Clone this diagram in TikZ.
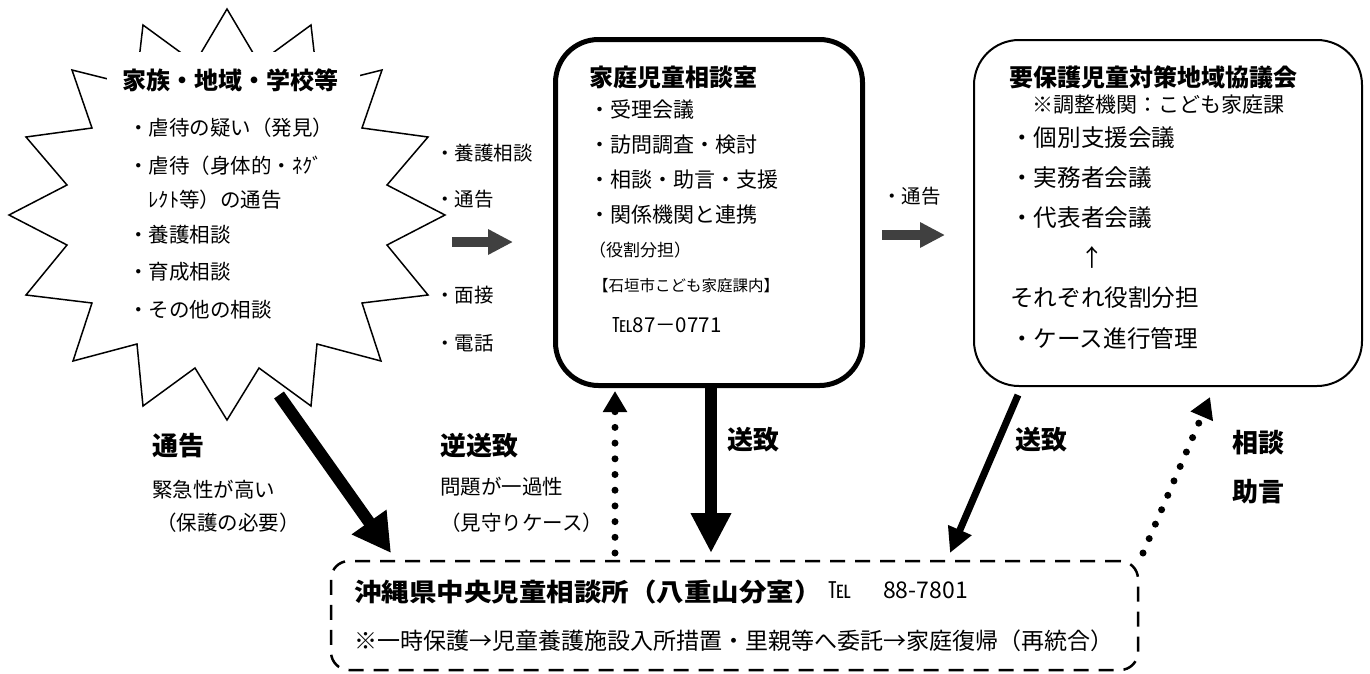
\documentclass[tikz,border=0pt]{standalone}
\usepackage{fontspec}
\setmainfont{Noto Sans CJK JP}
\usepackage{graphicx}
\usetikzlibrary{arrows.meta,calc}
\newcommand\fsz[1]{\fontsize{#1pt}{#1pt}\selectfont}
\definecolor{arrgray}{HTML}{404040}
\begin{document}
\begin{tikzpicture}[x=1pt,y=-1pt,
  tl/.style={inner sep=0pt,anchor=west},
  tc/.style={inner sep=0pt,anchor=center},
  bold24/.style={font=\bfseries\fsz{24}},
  boldlbl/.style={tl,font=\bfseries\fsz{26}},
  body/.style={tl,font=\fsz{#1}},
  grayarrow/.style={line width=10pt,arrgray,-{Triangle[length=25pt,width=24pt]}},
  dotarrow/.style={line width=7pt,dash pattern=on 0pt off 15.7pt,line cap=round,-{Triangle[length=21pt,width=23pt]}},
  roundbox/.style={draw,inner sep=0pt,rounded corners=#1}
]
\useasboundingbox (0,0) rectangle (1370,673);

% ---------- starburst ----------
\draw[line width=1.5pt,line join=miter]
  (227,9) -- (195,63) -- (143,25) -- (136,86) -- (72,70) -- (92,128) -- (26,137) -- (67,185)
  -- (9,215) -- (67,245) -- (26,295) -- (92,303) -- (73,361) -- (137,344) -- (143,406)
  -- (195,368) -- (227,420) -- (259,368) -- (311,406) -- (317,344) -- (381,361) -- (362,303)
  -- (428,295) -- (387,245) -- (445,215) -- (387,185) -- (428,137) -- (362,128) -- (382,70)
  -- (318,86) -- (311,25) -- (259,63) -- cycle;
\node[fill=white,inner sep=0pt,minimum width=253pt,minimum height=278pt] (burst) at (233.5,191) {};
\node[tc,bold24] (bt) at (230,80) {家族・地域・学校等};
\node[body=20.5] (b1) at (128,128) {・虐待の疑い（発見）};
\node[body=20.5] (b2) at (128,166) {・虐待（身体的・ﾈｸﾞ};
\node[body=20.5] (b3) at (148.5,200) {ﾚｸﾄ等）の通告};
\node[body=20.5] (b4) at (128,235) {・養護相談};
\node[body=20.5] (b5) at (128,272) {・育成相談};
\node[body=20.5] (b6) at (128,310) {・その他の相談};

% ---------- labels between burst and middle box ----------
\node[body=19.5] (m1) at (435,153) {・養護相談};
\node[body=19.5] (m2) at (435,199) {・通告};
\node[body=19.5] (m3) at (435,295) {・面接};
\node[body=19.5] (m4) at (435,343) {・電話};
\coordinate (h1s) at (452,242);
\coordinate (h1e) at (513,242);
\draw[grayarrow] (h1s) -- (h1e);

% ---------- middle box ----------
\node[roundbox=43pt,line width=5pt,minimum width=307pt,minimum height=346pt] (mid) at (709,212.5) {};
\node[tl,bold24] (mt) at (589,77) {家庭児童相談室};
\node[body=21] (c1) at (589,110) {・受理会議};
\node[body=21] (c2) at (589,145) {・訪問調査・検討};
\node[body=21] (c3) at (589,180) {・相談・助言・支援};
\node[body=21] (c4) at (589,215) {・関係機関と連携};
\node[body=17] (c5) at (589,250) {（役割分担）};
\node[body=15.5] (c6) at (593,286) {【石垣市こども家庭課内】};
\node[body=20.5] (c7) at (612,325) {℡87－0771};

% ---------- arrow to right box ----------
\node[body=19.5] (n1) at (882,196) {・通告};
\coordinate (h2s) at (882,235);
\coordinate (h2e) at (945,235);
\draw[grayarrow] (h2s) -- (h2e);

% ---------- right box ----------
\node[roundbox=45pt,line width=2pt,minimum width=388pt,minimum height=346pt] (kyo) at (1168,213) {};
\node[tl,bold24] (kt) at (1009,77) {要保護児童対策地域協議会};
\node[body=21] (k0) at (1032,105) {※調整機関：こども家庭課};
\node[body=23.6] (k1) at (1010,138) {・個別支援会議};
\node[body=23.6] (k2) at (1010,178) {・実務者会議};
\node[body=23.6] (k3) at (1010,218) {・代表者会議};
\node[tc,font=\fsz{23.6}] (k4) at (1092,257) {↑};
\node[body=23.6] (k5) at (1010,298) {それぞれ役割分担};
\node[body=23.6] (k6) at (1010,338) {・ケース進行管理};

% ---------- bottom box ----------
\node[roundbox=18pt,line width=2.5pt,dash pattern=on 15pt off 10pt,minimum width=807pt,minimum height=109pt] (bot) at (734.5,615.5) {};
\node[tl,font=\bfseries\fsz{25}] (jt) at (354,592) {\scalebox{1.1}[1]{沖縄県中央児童相談所（八重山分室）}};
\node[body=23] (jtel) at (828,590) {℡\hspace{32pt}88-7801};
\node[body=23] (j2) at (354,641) {※一時保護→児童養護施設入所措置・里親等へ委託→家庭復帰（再統合）};

% ---------- lower arrows ----------
\coordinate (e1s) at (279,395);
\coordinate (e1e) at (391,553);
\draw[line width=12pt,-{Triangle[length=38pt,width=40pt]}] (e1s) -- (e1e);
\node[boldlbl] (l1) at (152,446) {通告};
\node[body=20.5] (l1a) at (152,490) {緊急性が高い};
\node[body=20.5] (l1b) at (156,523) {（保護の必要）};

\coordinate (d1) at (615,553);
\draw[dotarrow,shorten >=3pt] (d1) -- (mid.south -| d1);
\node[boldlbl] (l2) at (440,446) {逆送致};
\node[body=20.5] (l2a) at (440,487) {問題が一過性};
\node[body=20.5] (l2b) at (440,523) {（見守りケース）};

\coordinate (s2) at (711,553);
\draw[line width=12pt,-{Triangle[length=40pt,width=38pt]}] (mid.south -| s2) -- (s2);
\node[boldlbl] (l3) at (727,440) {送致};

\coordinate (r1s) at (1018,395);
\coordinate (r1e) at (950,553);
\draw[line width=7pt,-{Triangle[length=25pt,width=24pt]}] (r1s) -- (r1e);
\node[boldlbl] (l4) at (1015,440) {送致};

\coordinate (d2) at (1143,553);
\coordinate (d2e) at (1210,397);
\draw[dotarrow] (d2) -- (d2e);
\node[boldlbl] (l5) at (1232,443) {相談};
\node[boldlbl] (l6) at (1232,492) {助言};
\end{tikzpicture}
\end{document}
